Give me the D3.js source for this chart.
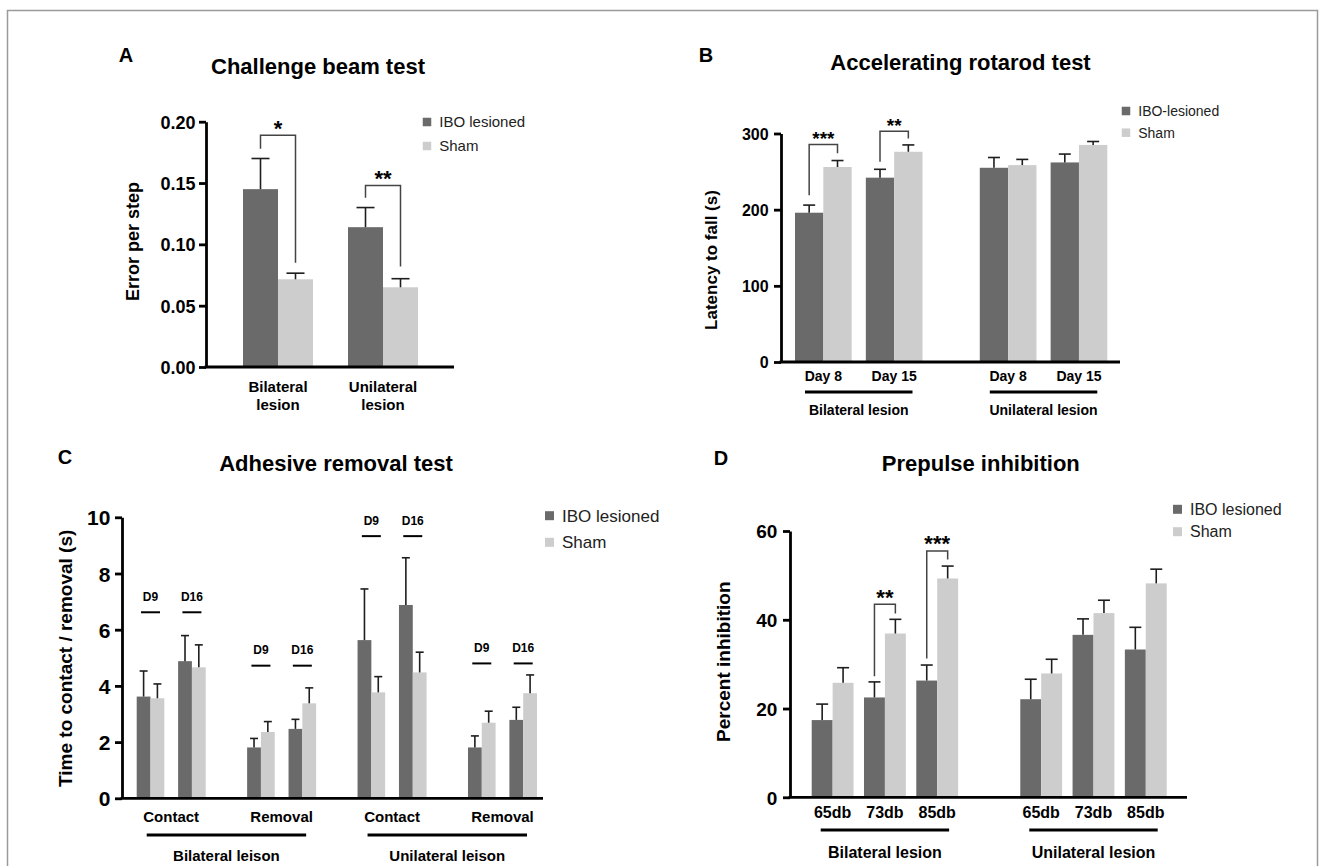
<!DOCTYPE html>
<html>
<head>
<meta charset="utf-8">
<script src="https://cdn.jsdelivr.net/npm/d3@7"></script>
<style>
  html, body { margin: 0; padding: 0; background: #fff; }
  svg { display: block; font-family: "Liberation Sans", Arial, Helvetica, sans-serif; }
</style>
</head>
<body>
<svg id="fig" width="1320" height="866"></svg>
<script>
// Series shared by all four panels
const seriesKeys = ['IBO', 'Sham'];
const seriesColor = { IBO: '#6a6a6a', Sham: '#cdcdcd' };

// A - Challenge beam test
const aGroups = ['Bilateral', 'Unilateral'];
const aGroupLabels = [['Bilateral', 'lesion'], ['Unilateral', 'lesion']];
const aIboMean = [0.145, 0.114];
const aIboSem = [0.025, 0.016];
const aShamMean = [0.0715, 0.065];
const aShamSem = [0.005, 0.007];
const aTicks = [0, 0.05, 0.1, 0.15, 0.2];
const aLegend = ['IBO lesioned', 'Sham'];
const aSig = [
  { leaf: ['Bilateral'], top: 0.189, left: 0.178, right: 0.085, label: '*' },
  { leaf: ['Unilateral'], top: 0.148, left: 0.138, right: 0.082, label: '**' },
];

// B - Accelerating rotarod test
const bGroups = ['Bilateral lesion', 'Unilateral lesion'];
const bDays = ['Day 8', 'Day 15'];
const bIboMean = [196, 242, 255, 262];
const bIboSem = [10, 11, 13.5, 11];
const bShamMean = [256, 276, 258.5, 285];
const bShamSem = [8.5, 9, 7.5, 4.5];
const bTicks = [0, 100, 200, 300];
const bLegend = ['IBO-lesioned', 'Sham'];
const bSig = [
  { leaf: ['Bilateral lesion', 'Day 8'], top: 285.5, left: 219, right: 274, label: '***' },
  { leaf: ['Bilateral lesion', 'Day 15'], top: 303, left: 263, right: 293.5, label: '**' },
];

// C - Adhesive removal test
const cGroups = ['Bilateral leison', 'Unilateral leison'];
const cTests = ['Contact', 'Removal'];
const cDays = ['D9', 'D16'];
const cIboMean = [3.62, 4.88, 1.81, 2.47, 5.63, 6.88, 1.81, 2.79];
const cIboSem = [0.91, 0.91, 0.32, 0.34, 1.82, 1.68, 0.41, 0.45];
const cShamMean = [3.56, 4.66, 2.36, 3.38, 3.77, 4.48, 2.69, 3.74];
const cShamSem = [0.51, 0.8, 0.37, 0.55, 0.56, 0.72, 0.41, 0.65];
const cDayLine = [6.62, 4.72, 9.33, 4.8];   // one per group x test
const cTicks = [0, 2, 4, 6, 8, 10];
const cLegend = ['IBO lesioned', 'Sham'];

// D - Prepulse inhibition
const dGroups = ['Bilateral lesion', 'Unilateral lesion'];
const dLevels = ['65db', '73db', '85db'];
const dIboMean = [17.4, 22.5, 26.3, 22.1, 36.6, 33.3];
const dIboSem = [3.6, 3.5, 3.5, 4.5, 3.6, 5.0];
const dShamMean = [25.8, 36.9, 49.3, 27.9, 41.5, 48.2];
const dShamSem = [3.4, 3.2, 2.8, 3.2, 2.9, 3.2];
const dTicks = [0, 20, 40, 60];
const dLegend = ['IBO lesioned', 'Sham'];
const dSig = [
  { leaf: ['Bilateral lesion', '73db'], top: 43.5, left: 27.3, right: 41.4, label: '**' },
  { leaf: ['Bilateral lesion', '85db'], top: 55.5, left: 31.3, right: 53.6, label: '***' },
];

const svg = d3.select('#fig');

// outer frame of the figure
svg.append('rect')
  .attr('x', 7.5).attr('y', 10.5)
  .attr('width', 1310).attr('height', 900)
  .attr('fill', 'none').attr('stroke', '#9a9a9a').attr('stroke-width', 1.5);

function text(x, y, str, size, weight, anchor) {
  return svg.append('text')
    .attr('x', x).attr('y', y)
    .attr('font-size', size)
    .attr('font-weight', weight || 'bold')
    .attr('text-anchor', anchor || 'middle')
    .attr('fill', '#000')
    .text(str);
}

function yLabel(x, y, str, size) {
  svg.append('text')
    .attr('transform', `translate(${x},${y}) rotate(-90)`)
    .attr('font-size', size)
    .attr('font-weight', 'bold')
    .attr('text-anchor', 'middle')
    .text(str);
}

// nested band scales: group -> sub-category -> series
function makePanel(cfg) {
  const y = d3.scaleLinear().domain([0, cfg.yMax]).range([cfg.y0, cfg.y1]);
  const bands = [];
  cfg.levels.forEach((dom, i) => {
    bands.push(d3.scaleBand().domain(dom)
      .range(i === 0 ? cfg.xRange : [0, bands[i - 1].bandwidth()])
      .paddingInner(cfg.pads[i]));
  });
  const left = (path) => d3.sum(path, (k, i) => bands[i](k));
  const bw = (depth) => bands[depth - 1].bandwidth();
  const mid = (path) => left(path) + bw(path.length) / 2;
  return { cfg, y, left, bw, mid };
}

function buildRows(leaves, iboMean, iboSem, shamMean, shamSem) {
  const means = { IBO: iboMean, Sham: shamMean };
  const sems = { IBO: iboSem, Sham: shamSem };
  return leaves.flatMap((leaf, i) => seriesKeys.map((s) => ({
    path: [...leaf, s], key: s, mean: means[s][i], sem: sems[s][i],
  })));
}

function drawBars(p, rows) {
  const { y, left, bw, mid, cfg } = p;
  const g = svg.append('g');
  g.selectAll('rect')
    .data(rows)
    .join('rect')
    .attr('x', (d) => left(d.path))
    .attr('width', (d) => bw(d.path.length))
    .attr('y', (d) => y(d.mean))
    .attr('height', (d) => y(0) - y(d.mean))
    .attr('fill', (d) => seriesColor[d.key]);

  const eb = svg.append('g').attr('stroke', '#1e1e1e').attr('stroke-width', 1.6);
  eb.selectAll('line.v')
    .data(rows)
    .join('line')
    .attr('class', 'v')
    .attr('x1', (d) => mid(d.path)).attr('x2', (d) => mid(d.path))
    .attr('y1', (d) => y(d.mean)).attr('y2', (d) => y(d.mean + d.sem));
  eb.selectAll('line.c')
    .data(rows)
    .join('line')
    .attr('class', 'c')
    .attr('x1', (d) => mid(d.path) - cfg.capW).attr('x2', (d) => mid(d.path) + cfg.capW)
    .attr('y1', (d) => y(d.mean + d.sem)).attr('y2', (d) => y(d.mean + d.sem));
}

function drawAxes(p, ticks, fmt) {
  const { y, cfg } = p;
  const ax = svg.append('g')
    .attr('transform', `translate(${cfg.axisX},0)`)
    .call(d3.axisLeft(y).tickValues(ticks).tickFormat(fmt)
      .tickSize(7).tickSizeOuter(0).tickPadding(cfg.tickPad));
  ax.select('.domain').attr('stroke', '#000').attr('stroke-width', 2.8);
  ax.selectAll('.tick line').attr('stroke', '#000').attr('stroke-width', 2.8);
  ax.selectAll('.tick text')
    .attr('font-size', cfg.tickFont)
    .attr('font-weight', 'bold')
    .attr('font-family', '"Liberation Sans", Arial, sans-serif')
    .attr('fill', '#000')
    .attr('dy', '0.36em');
  svg.append('line')
    .attr('x1', cfg.axisX - 1.4).attr('x2', cfg.xEnd)
    .attr('y1', y(0)).attr('y2', y(0))
    .attr('stroke', '#000').attr('stroke-width', 2.8);
}

function drawLegend(x, ys, size, font, labels) {
  seriesKeys.forEach((k, i) => {
    svg.append('rect')
      .attr('x', x - size / 2).attr('y', ys[i] - size / 2)
      .attr('width', size).attr('height', size)
      .attr('fill', seriesColor[k]);
    text(x + size / 2 + 8, ys[i] + font * 0.36, labels[i], font, 'normal', 'start')
      .attr('fill', '#222');
  });
}

function drawSig(p, sig, font) {
  const { y, mid } = p;
  const g = svg.append('g');
  sig.forEach((b) => {
    const xl = mid([...b.leaf, 'IBO']);
    const xr = mid([...b.leaf, 'Sham']);
    g.append('path')
      .attr('d', `M${xl},${y(b.left)}V${y(b.top)}H${xr}V${y(b.right)}`)
      .attr('fill', 'none').attr('stroke', '#444').attr('stroke-width', 1.5);
    // asterisks sit high in the glyph box, so the baseline is almost on the bracket
    text((xl + xr) / 2, y(b.top) + 0.5, b.label, font, 'bold');
  });
}

function groupLine(x0, x1, yy) {
  svg.append('line')
    .attr('x1', x0).attr('x2', x1).attr('y1', yy).attr('y2', yy)
    .attr('stroke', '#000').attr('stroke-width', 3);
}

// ---------- Panel A ----------
const pA = makePanel({
  levels: [aGroups, seriesKeys], pads: [1 / 3, 0],
  xRange: [243, 418], yMax: 0.2, y0: 367, y1: 121.7,
  axisX: 206, xEnd: 454, tickFont: 18, tickPad: 3.5, capW: 9,
});
drawBars(pA, buildRows(aGroups.map((g) => [g]), aIboMean, aIboSem, aShamMean, aShamSem));
drawAxes(pA, aTicks, d3.format('.2f'));
drawSig(pA, aSig, 22);
aGroups.forEach((g, i) => {
  aGroupLabels[i].forEach((line, j) => {
    text(pA.mid([g]), 391.5 + j * 18, line, 15, 'bold');
  });
});
drawLegend(427, [122, 146], 8.5, 15, aLegend);
text(126, 62, 'A', 20);
text(318, 73.5, 'Challenge beam test', 22);
yLabel(139, 241.5, 'Error per step', 18);

// ---------- Panel B ----------
const pB = makePanel({
  levels: [bGroups, bDays, seriesKeys], pads: [0.31, 0.2, 0],
  xRange: [795, 1107.3], yMax: 300, y0: 362, y1: 133.5,
  axisX: 781, xEnd: 1120, tickFont: 16, tickPad: 5.4, capW: 6,
});
const bLeaves = d3.cross(bGroups, bDays);
drawBars(pB, buildRows(bLeaves, bIboMean, bIboSem, bShamMean, bShamSem));
drawAxes(pB, bTicks, d3.format('d'));
drawSig(pB, bSig, 19);
bLeaves.forEach((leaf) => text(pB.mid(leaf), 381, leaf[1], 14, 'bold'));
bGroups.forEach((g) => {
  const x0 = pB.left([g]);
  groupLine(x0 + 10, x0 + pB.bw(1) - 10, 392);
  text(pB.mid([g]), 415, g, 14, 'bold');
});
drawLegend(1126, [111, 132.7], 8.5, 14, bLegend);
text(706, 62, 'B', 20);
text(960.5, 69.5, 'Accelerating rotarod test', 22);
yLabel(717, 260, 'Latency to fall (s)', 17);

// ---------- Panel C ----------
const pC = makePanel({
  levels: [cGroups, cTests, cDays, seriesKeys], pads: [0.1875, 0.375, 1 / 3, 0],
  xRange: [136.7, 537], yMax: 10, y0: 798.3, y1: 517.3,
  axisX: 122, xEnd: 543, tickFont: 21, tickPad: 4.7, capW: 4,
});
const cLeaves = d3.cross(cGroups, cTests, cDays);
drawBars(pC, buildRows(cLeaves, cIboMean, cIboSem, cShamMean, cShamSem));
drawAxes(pC, cTicks, d3.format('d'));
d3.cross(cGroups, cTests).forEach((gt, i) => {
  text(pC.mid(gt), 822, gt[1], 15, 'bold');
  cDays.forEach((day) => {
    const xm = pC.mid([...gt, day]);
    const yy = pC.y(cDayLine[i]);
    svg.append('line')
      .attr('x1', xm - 9.5).attr('x2', xm + 9.5).attr('y1', yy).attr('y2', yy)
      .attr('stroke', '#000').attr('stroke-width', 2);
    text(xm, yy - 11.5, day, 12, 'bold');
  });
});
cGroups.forEach((g) => {
  const x0 = pC.left([g]);
  groupLine(x0 + 10, x0 + pC.bw(1) - 10, 835);
  text(pC.mid([g]), 860.5, g, 15, 'bold');
});
drawLegend(549.5, [515.7, 542.3], 9, 17, cLegend);
text(65, 464, 'C', 20);
text(336, 471, 'Adhesive removal test', 22);
yLabel(72, 658.3, 'Time to contact / removal (s)', 19);

// ---------- Panel D ----------
const pD = makePanel({
  levels: [dGroups, dLevels, seriesKeys], pads: [0.298, 0.2, 0],
  xRange: [811.7, 1166.7], yMax: 60, y0: 797.3, y1: 531,
  axisX: 790, xEnd: 1187, tickFont: 19, tickPad: 5.7, capW: 6,
});
const dLeaves = d3.cross(dGroups, dLevels);
drawBars(pD, buildRows(dLeaves, dIboMean, dIboSem, dShamMean, dShamSem));
drawAxes(pD, dTicks, d3.format('d'));
drawSig(pD, dSig, 22);
dLeaves.forEach((leaf) => text(pD.mid(leaf), 817.5, leaf[1], 16, 'bold'));
dGroups.forEach((g) => {
  const x0 = pD.left([g]);
  groupLine(x0 + 9, x0 + pD.bw(1) - 9, 830);
  text(pD.mid([g]), 857.5, g, 16, 'bold');
});
drawLegend(1177.5, [509.3, 531.7], 9, 16, dLegend);
text(721, 464.5, 'D', 20);
text(980.8, 471, 'Prepulse inhibition', 22);
yLabel(730, 661.7, 'Percent inhibition', 19);
</script>
</body>
</html>
